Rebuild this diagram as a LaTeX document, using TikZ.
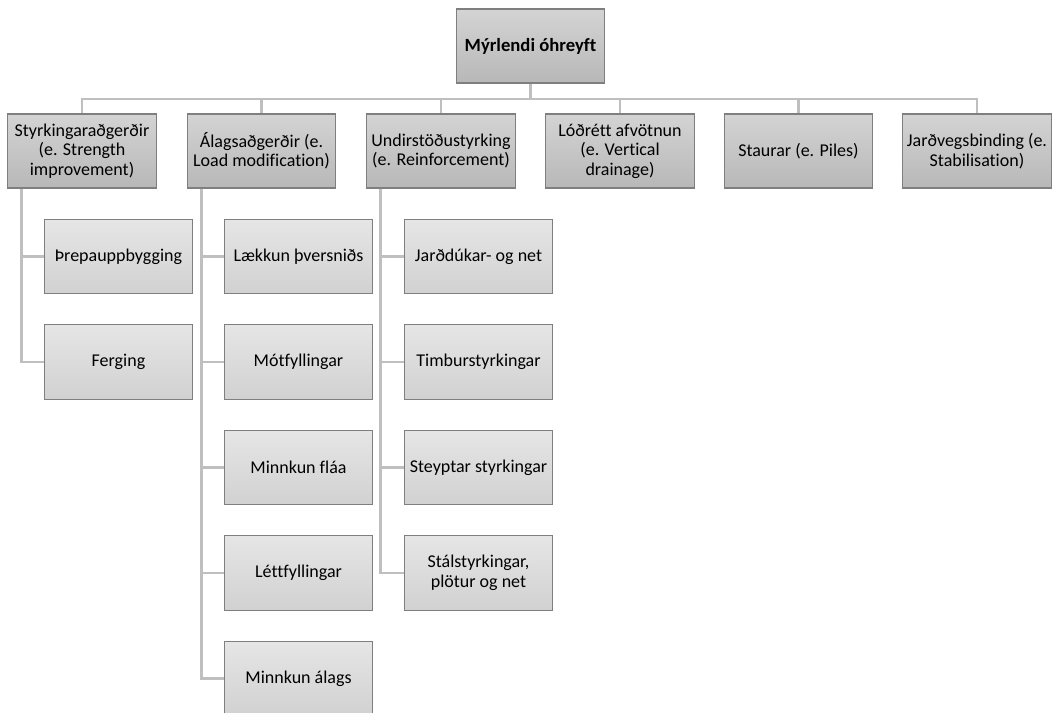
\documentclass[tikz,border=0pt]{standalone}
\usepackage{fontspec}
\setmainfont{Carlito}[Ligatures=NoCommon]
\usepackage{xcolor}
\usetikzlibrary{positioning}

\definecolor{boxline}{HTML}{7F7F7F}
\definecolor{linkgray}{HTML}{BFBFBF}

\begin{document}
\begin{tikzpicture}[x=0.75pt,y=-0.75pt,
	topbox/.style={draw=boxline,line width=0.9pt,minimum width=111.5pt,minimum height=55.5pt,
		top color=black!17,bottom color=black!28,align=center,font=\fontsize{13.5}{14.6}\selectfont,inner sep=1pt},
	subbox/.style={draw=boxline,line width=0.9pt,minimum width=111.5pt,minimum height=56pt,
		top color=black!10,bottom color=black!18,align=center,font=\fontsize{13.5}{14.6}\selectfont,inner sep=1pt},
	link/.style={draw=linkgray,line width=2.2pt}]
	
	\useasboundingbox (0,0) rectangle (1057,713);
	
	% root
	\node[topbox,font=\fontsize{14}{16}\selectfont\bfseries] (root) at (530.5,46) {Mýrlendi óhreyft};
	
	% first level
	\node[topbox] (styrk) at (82,151) {Styrkingaraðgerðir\\(e. Strength\\improvement)};
	\node[topbox] (alag) at (261.5,151) {Álagsaðgerðir (e.\\Load modification)};
	\node[topbox] (undir) at (441,151) {Undirstöðustyrking\\(e. Reinforcement)};
	\node[topbox] (lodr) at (620,151) {Lóðrétt afvötnun\\(e. Vertical\\drainage)};
	\node[topbox] (staur) at (798.5,151) {Staurar (e. Piles)};
	\node[topbox] (jardv) at (977,151) {Jarðvegsbinding (e.\\Stabilisation)};
	
	% under styrkingaradgerdir
	\node[subbox] (threp) at (118.5,256.5) {Þrepauppbygging};
	\node[subbox] (ferg) at (118.5,362) {Ferging};
	
	% under alagsadgerdir
	\node[subbox] (laekk) at (298.5,256.5) {Lækkun þversniðs};
	\node[subbox] (motf) at (298.5,362) {Mótfyllingar};
	\node[subbox] (minnf) at (298.5,467.5) {Minnkun fláa};
	\node[subbox] (lettf) at (298.5,573) {Léttfyllingar};
	\node[subbox] (minna) at (298.5,678.5) {Minnkun álags};
	
	% under undirstodustyrking
	\node[subbox] (jardd) at (478.5,256.5) {Jarðdúkar- og net};
	\node[subbox] (timb) at (478.5,362) {Timburstyrkingar};
	\node[subbox] (steyp) at (478.5,467.5) {Steyptar styrkingar};
	\node[subbox] (stal) at (478.5,573) {Stálstyrkingar,\\plötur og net};
	
	% connectors from root
	\coordinate (bus) at (530.5,99);
	\draw[link] (root.south) -- (bus);
	\draw[link] (bus) -| (styrk.north);
	\draw[link] (bus) -| (alag.north);
	\draw[link] (bus) -| (undir.north);
	\draw[link] (bus) -| (lodr.north);
	\draw[link] (bus) -| (staur.north);
	\draw[link] (bus) -| (jardv.north);
	
	% connectors on the left
	\draw[link] ([xshift=11pt]styrk.south west) |- (threp.west);
	\draw[link] ([xshift=11pt]styrk.south west) |- (ferg.west);
	\draw[link] ([xshift=11pt]alag.south west) |- (laekk.west);
	\draw[link] ([xshift=11pt]alag.south west) |- (motf.west);
	\draw[link] ([xshift=11pt]alag.south west) |- (minnf.west);
	\draw[link] ([xshift=11pt]alag.south west) |- (lettf.west);
	\draw[link] ([xshift=11pt]alag.south west) |- (minna.west);
	\draw[link] ([xshift=11pt]undir.south west) |- (jardd.west);
	\draw[link] ([xshift=11pt]undir.south west) |- (timb.west);
	\draw[link] ([xshift=11pt]undir.south west) |- (steyp.west);
	\draw[link] ([xshift=11pt]undir.south west) |- (stal.west);
	
\end{tikzpicture}
\end{document}
